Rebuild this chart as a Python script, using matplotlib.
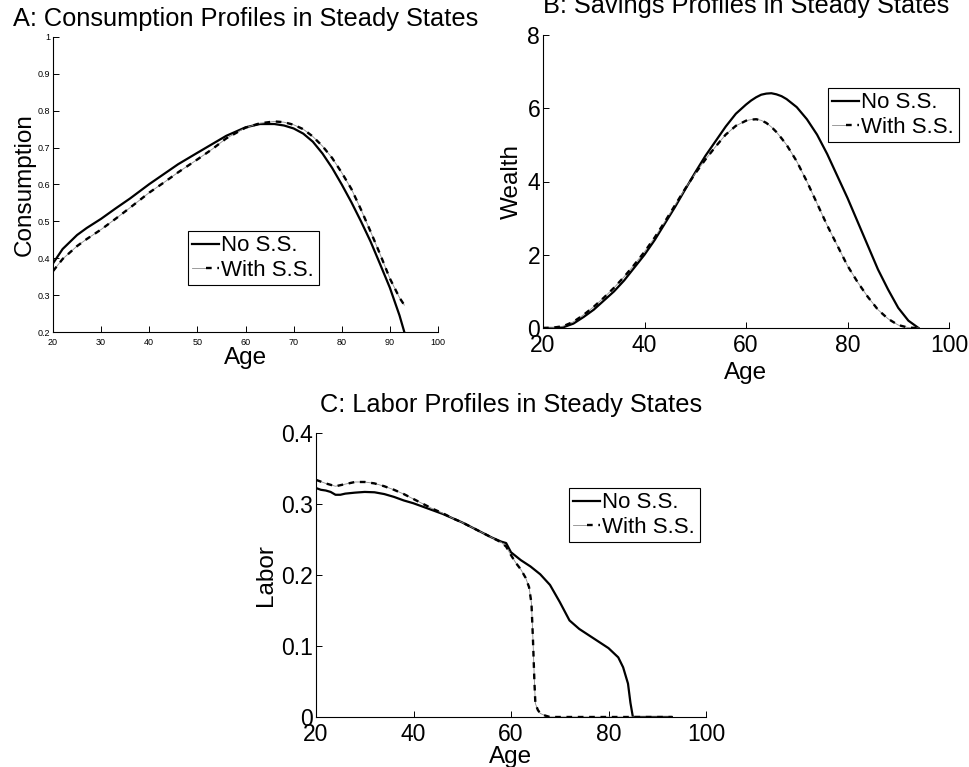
import matplotlib
matplotlib.use("Agg")
import matplotlib.pyplot as plt
from matplotlib.legend_handler import HandlerTuple

plt.rcParams["font.family"] = ["Liberation Sans", "DejaVu Sans"]

# Panel A: consumption by age
ages_cons = [20, 22, 25, 27, 30, 33, 36, 40, 43, 46, 50, 53, 56, 60, 63, 66, 68,
             70, 72, 74, 76, 78, 80, 82, 84, 86, 88, 90, 92, 93]
cons_no_ss = [0.386, 0.425, 0.463, 0.482, 0.507, 0.535, 0.562, 0.601, 0.628, 0.655,
              0.686, 0.709, 0.732, 0.755, 0.764, 0.764, 0.760, 0.752, 0.738, 0.716,
              0.684, 0.645, 0.600, 0.552, 0.500, 0.445, 0.383, 0.320, 0.245, 0.200]
cons_with_ss = [0.365, 0.398, 0.433, 0.452, 0.478, 0.507, 0.537, 0.578, 0.605, 0.633,
                0.668, 0.695, 0.725, 0.754, 0.766, 0.771, 0.769, 0.762, 0.750, 0.730,
                0.704, 0.672, 0.632, 0.588, 0.532, 0.472, 0.410, 0.345, 0.293, 0.273]

# Panel B: wealth by age
ages_wealth = [20, 22, 24, 26, 28, 30, 32, 34, 36, 38, 40, 42, 44, 46, 48, 50, 52,
               54, 56, 58, 60, 61, 62, 63, 64, 65, 66, 67, 68, 70, 72, 74, 76, 78,
               80, 82, 84, 86, 88, 90, 92, 94]
wealth_no_ss = [0.0, 0.0, 0.02, 0.12, 0.30, 0.50, 0.75, 1.00, 1.30, 1.65, 2.00, 2.40,
                2.85, 3.30, 3.78, 4.25, 4.70, 5.10, 5.50, 5.85, 6.10, 6.21, 6.30, 6.37,
                6.40, 6.41, 6.38, 6.33, 6.25, 6.03, 5.70, 5.28, 4.75, 4.15, 3.55, 2.90,
                2.25, 1.60, 1.05, 0.55, 0.20, 0.0]
wealth_with_ss = [0.0, 0.01, 0.05, 0.17, 0.36, 0.58, 0.83, 1.10, 1.40, 1.73, 2.08, 2.47,
                  2.90, 3.35, 3.80, 4.22, 4.60, 4.95, 5.28, 5.52, 5.66, 5.69, 5.70, 5.67,
                  5.60, 5.49, 5.35, 5.18, 5.00, 4.55, 4.00, 3.40, 2.80, 2.25, 1.70, 1.25,
                  0.85, 0.50, 0.25, 0.08, 0.01, 0.0]

# Panel C: labor supply by age
ages_labor_no = [20, 21, 22, 23, 24, 25, 26, 28, 30, 32, 34, 36, 38, 40, 42, 44, 46,
                 48, 50, 52, 54, 56, 58, 59, 60, 62, 64, 66, 68, 70, 72, 74, 76, 78,
                 80, 82, 83, 84, 84.5, 85, 87, 89, 91, 93]
labor_no_ss = [0.3225, 0.320, 0.319, 0.317, 0.313, 0.313, 0.3146, 0.316, 0.317, 0.3165,
               0.314, 0.310, 0.305, 0.301, 0.296, 0.291, 0.286, 0.280, 0.274, 0.267,
               0.260, 0.253, 0.247, 0.245, 0.232, 0.221, 0.212, 0.201, 0.186, 0.162,
               0.136, 0.124, 0.115, 0.106, 0.097, 0.084, 0.070, 0.047, 0.020, 0.0,
               0.0, 0.0, 0.0, 0.0]
ages_labor_with = [20, 22, 24, 26, 28, 30, 32, 34, 36, 38, 40, 42, 44, 46, 48, 50, 52,
                   54, 56, 58, 59, 60, 61, 62, 63, 63.7, 64.2, 64.5, 64.8, 65, 65.5,
                   66, 67, 68, 70, 75, 80, 85, 90, 93]
labor_with_ss = [0.334, 0.329, 0.325, 0.328, 0.331, 0.331, 0.329, 0.325, 0.320, 0.314,
                 0.307, 0.300, 0.293, 0.287, 0.280, 0.274, 0.267, 0.260, 0.253, 0.246,
                 0.240, 0.228, 0.217, 0.208, 0.196, 0.183, 0.160, 0.110, 0.050, 0.019,
                 0.010, 0.005, 0.002, 0.0, 0.0, 0.0, 0.0, 0.0, 0.0, 0.0]

W, H = 969, 767
fig = plt.figure(figsize=(W / 100, H / 100), dpi=100)


def px_axes(left, top, right, bottom):
    return fig.add_axes([left / W, 1 - bottom / H, (right - left) / W, (bottom - top) / H])


def style(ax, tick_size):
    for side in ("top", "right"):
        ax.spines[side].set_visible(False)
    for side in ("left", "bottom"):
        ax.spines[side].set_linewidth(0.8)
    ax.tick_params(direction="in", length=4, width=0.7, labelsize=tick_size)
    ax.tick_params(axis="x", pad=4)
    ax.tick_params(axis="y", pad=2)


def draw_pair(ax, x1, y1, x2, y2):
    solid, = ax.plot(x1, y1, color="black", lw=1.6, solid_joinstyle="round")
    thin, = ax.plot(x2, y2, color="0.55", lw=0.6)
    dash, = ax.plot(x2, y2, color="black", lw=1.7, linestyle=(0, (2.4, 2.4)))
    return solid, (thin, dash)


def add_legend(ax, handles, x0, y0):
    leg = ax.legend(handles, ["No S.S.", "With S.S."], loc="upper left",
                    bbox_to_anchor=(x0 / W, 1 - y0 / H), bbox_transform=fig.transFigure,
                    borderaxespad=0, fontsize=16, handlelength=1.2, handletextpad=0.1,
                    borderpad=0.2, labelspacing=0.15, fancybox=False, framealpha=1,
                    edgecolor="black",
                    handler_map={tuple: HandlerTuple(ndivide=None, pad=0)})
    leg.get_frame().set_linewidth(0.8)


# A: consumption
ax1 = px_axes(53, 37, 438, 332)
solid, dashdot = draw_pair(ax1, ages_cons, cons_no_ss, ages_cons, cons_with_ss)
ax1.set_xlim(20, 100)
ax1.set_ylim(0.2, 1)
ax1.set_xticks(range(20, 101, 10))
ax1.set_yticks([0.2, 0.3, 0.4, 0.5, 0.6, 0.7, 0.8, 0.9, 1])
ax1.set_yticklabels(["0.2", "0.3", "0.4", "0.5", "0.6", "0.7", "0.8", "0.9", "1"])
style(ax1, 6.5)
ax1.set_title("A: Consumption Profiles in Steady States", fontsize=18.3, pad=8)
ax1.set_xlabel("Age", fontsize=17.5, labelpad=0)
ax1.set_ylabel("Consumption", fontsize=17.5, labelpad=1)
add_legend(ax1, [solid, dashdot], 188, 231)

# B: wealth
ax2 = px_axes(543, 35, 949, 328)
solid, dashdot = draw_pair(ax2, ages_wealth, wealth_no_ss, ages_wealth, wealth_with_ss)
ax2.set_xlim(20, 100)
ax2.set_ylim(0, 8)
ax2.set_xticks(range(20, 101, 20))
ax2.set_yticks(range(0, 9, 2))
style(ax2, 16.5)
ax2.set_title("B: Savings Profiles in Steady States", fontsize=18.3, pad=16)
ax2.set_xlabel("Age", fontsize=17.5, labelpad=4)
ax2.set_ylabel("Wealth", fontsize=17.5, labelpad=3)
add_legend(ax2, [solid, dashdot], 828, 88)

# C: labor
ax3 = px_axes(316, 433, 706, 717)
solid, dashdot = draw_pair(ax3, ages_labor_no, labor_no_ss, ages_labor_with, labor_with_ss)
ax3.set_xlim(20, 100)
ax3.set_ylim(0, 0.4)
ax3.set_xticks(range(20, 101, 20))
ax3.set_yticks([0, 0.1, 0.2, 0.3, 0.4])
ax3.set_yticklabels(["0", "0.1", "0.2", "0.3", "0.4"])
style(ax3, 16.5)
ax3.set_title("C: Labor Profiles in Steady States", fontsize=18.3, pad=15)
ax3.set_xlabel("Age", fontsize=17.5, labelpad=0)
ax3.set_ylabel("Labor", fontsize=17.5, labelpad=3)
add_legend(ax3, [solid, dashdot], 569, 488)

fig.savefig("out.png", dpi=100)
